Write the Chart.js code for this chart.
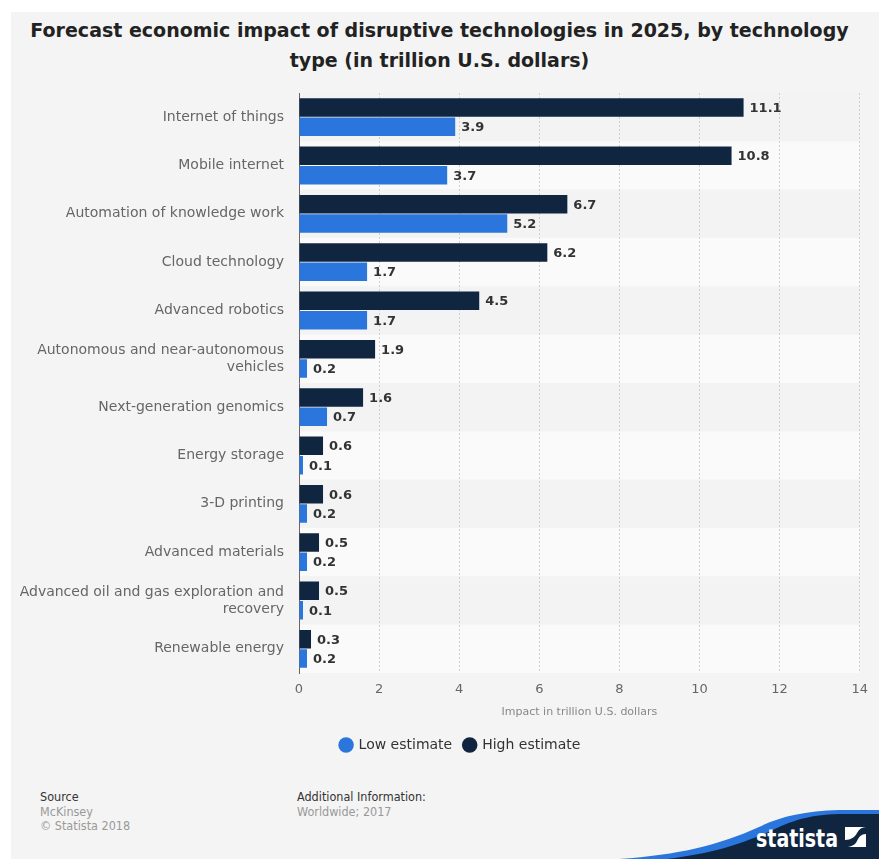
<!DOCTYPE html>
<html>
<head>
<meta charset="utf-8">
<script src="https://cdn.jsdelivr.net/npm/chart.js@4"></script>
<style>
  body { margin: 0; background: #fff; width: 879px; height: 859px; overflow: hidden; position: relative; font-family: "DejaVu Sans", sans-serif; }
  #panel { position: absolute; left: 11px; top: 12px; right: 0; bottom: 0; background: #f4f4f4; }
  #title { position: absolute; left: 0; right: 0; top: 15px; text-align: center; font-weight: bold; font-size: 19px; line-height: 30px; color: #222; }
  #chart { position: absolute; left: 20px; top: 0; }
  .foot { position: absolute; top: 790px; font-family: "DejaVu Sans Condensed", "DejaVu Sans", sans-serif; font-size: 12.5px; line-height: 14.5px; color: #999; }
  .foot b { font-weight: normal; color: #333; }
  #logo { position: absolute; left: 619px; top: 809px; }
</style>
</head>
<body>
<div id="panel"></div>
<div id="title">Forecast economic impact of disruptive technologies in 2025, by technology<br>type (in trillion U.S. dollars)</div>
<canvas id="chart" width="857" height="762"></canvas>
<div class="foot" style="left:40px"><b>Source</b><br>McKinsey<br>© Statista 2018</div>
<div class="foot" style="left:297px"><b>Additional Information:</b><br>Worldwide; 2017</div>
<svg id="logo" width="260" height="50" viewBox="0 0 260 50">
  <path d="M0,50 C60,46 100,36 140,18 C160,8 185,2 220,1 L260,1 L260,50 Z" fill="#2a76dd"/>
  <path d="M48,50 C100,44 130,32 158,19 C178,10 195,5 225,5 L260,5 L260,50 Z" fill="#0f2540"/>
  <text x="137" y="38" fill="#fff" font-family="DejaVu Sans Condensed, DejaVu Sans" font-weight="bold" font-size="25" textLength="82" lengthAdjust="spacingAndGlyphs">statista</text>
  <rect x="226" y="18" width="21" height="20" fill="#fff"/>
  <path d="M226,38 L226,31 C232,31 236,28 238,24 C240,20 243,18 247,18 L247,25 C242,25 240,28 238,32 C236,36 232,38 226,38 Z" fill="#0f2540"/>
</svg>
<script>
const categories = [
  "Internet of things",
  "Mobile internet",
  "Automation of knowledge work",
  "Cloud technology",
  "Advanced robotics",
  ["Autonomous and near-autonomous", "vehicles"],
  "Next-generation genomics",
  "Energy storage",
  "3-D printing",
  "Advanced materials",
  ["Advanced oil and gas exploration and", "recovery"],
  "Renewable energy"
];
const highEstimate = [11.1, 10.8, 6.7, 6.2, 4.5, 1.9, 1.6, 0.6, 0.6, 0.5, 0.5, 0.3];
const lowEstimate = [3.9, 3.7, 5.2, 1.7, 1.7, 0.2, 0.7, 0.1, 0.2, 0.2, 0.1, 0.2];
const xTicksMax = 14;

const HIGH = "#0f2540";
const LOW = "#2a76dd";

// alternating row bands behind the grid
const rowBands = {
  id: "rowBands",
  beforeDraw(chart) {
    const { ctx, chartArea, scales } = chart;
    const y = scales.y;
    const step = (chartArea.bottom - chartArea.top) / categories.length;
    ctx.save();
    categories.forEach((c, i) => {
      const cy = y.getPixelForValue(i);
      ctx.fillStyle = i % 2 ? "#fafafa" : "#f3f3f3";
      ctx.fillRect(chartArea.left, cy - step / 2, chartArea.right - chartArea.left, step);
    });
    ctx.restore();
  },
};

// value labels at bar ends
const valueLabels = {
  id: "valueLabels",
  afterDatasetsDraw(chart) {
    const { ctx } = chart;
    ctx.save();
    ctx.font = "bold 13px 'DejaVu Sans'";
    ctx.fillStyle = "#333";
    ctx.textBaseline = "middle";
    chart.data.datasets.forEach((ds, di) => {
      chart.getDatasetMeta(di).data.forEach((bar, i) => {
        ctx.fillText(ds.data[i].toFixed(1), bar.x + 6, bar.y + 1);
      });
    });
    ctx.restore();
  },
};

// legend sits a little right of centre in the original
const legendShift = {
  id: "legendShift",
  afterLayout(chart) {
    chart.legend.left += 12;
    chart.legend.right += 12;
  },
};

new Chart(document.getElementById("chart"), {
  type: "bar",
  data: {
    labels: categories,
    datasets: [
      { label: "High estimate", data: highEstimate, backgroundColor: HIGH },
      { label: "Low estimate", data: lowEstimate, backgroundColor: LOW },
    ],
  },
  options: {
    indexAxis: "y",
    responsive: false,
    animation: false,
    devicePixelRatio: 1,
    categoryPercentage: 0.8,
    barPercentage: 0.96,
    layout: { padding: { top: 93, left: 0, right: 0, bottom: 0 } },
    plugins: {
      legend: {
        position: "bottom",
        reverse: true,
        labels: {
          usePointStyle: true,
          pointStyle: "circle",
          boxWidth: 11,
          boxHeight: 11,
          padding: 12,
          color: "#333",
          font: { family: "DejaVu Sans", size: 14 },
        },
      },
      tooltip: { enabled: false },
    },
    scales: {
      x: {
        min: 0,
        max: xTicksMax,
        ticks: { stepSize: 2, padding: 9, color: "#666", font: { family: "DejaVu Sans", size: 13 } },
        grid: { color: "#cfcfcf", drawTicks: false },
        border: { display: false, dash: [2, 2] },
        title: {
          display: true,
          text: "Impact in trillion U.S. dollars",
          color: "#888",
          font: { family: "DejaVu Sans", size: 11 },
          padding: { top: 0, bottom: 7 },
        },
        afterFit: (s) => { s.height = 53; },
      },
      y: {
        ticks: { padding: 7, color: "#666", font: { family: "DejaVu Sans", size: 14, lineHeight: 1.2 } },
        grid: { display: false },
        border: { display: true, color: "#666", width: 1 },
        afterFit: (s) => { s.width = 279; },
      },
    },
  },
  plugins: [rowBands, valueLabels, legendShift],
});
</script>
</body>
</html>
